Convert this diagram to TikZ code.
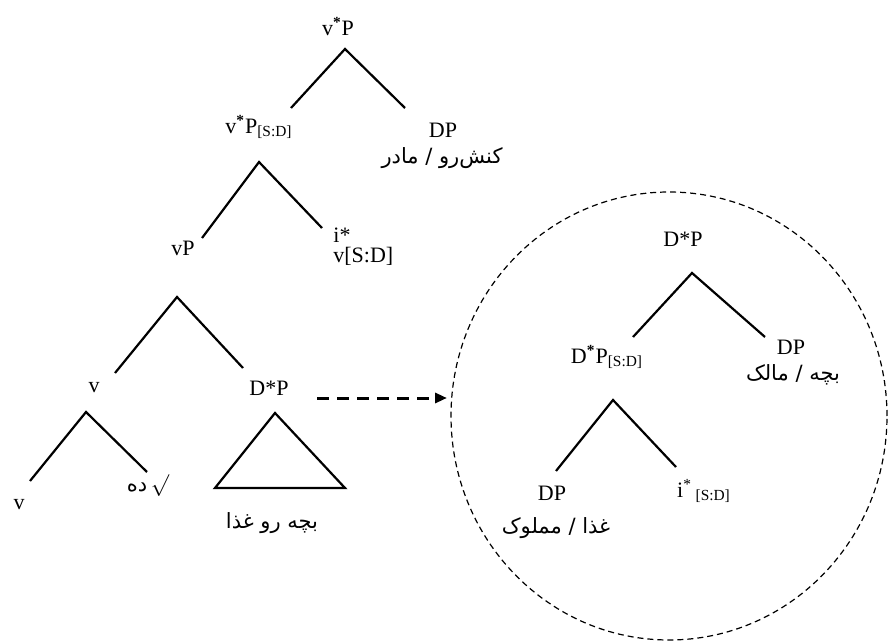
\documentclass[tikz,border=0pt]{standalone}
\usepackage{fontspec}
\setmainfont{Liberation Serif}
\newfontfamily\fa[Script=Arabic]{DejaVu Sans}
\TeXXeTstate=1
\usetikzlibrary{arrows.meta,shapes.geometric}

\begin{document}
\begin{tikzpicture}[
        x=0.5pt, y=-0.5pt,
        every node/.style={font=\fontsize{11}{13}\selectfont, inner sep=1pt},
        fa/.style={font=\fa\fontsize{10.5}{12}\selectfont},
        branch/.style={line width=1.1pt},
        zoomarrow/.style={-{Triangle[length=6pt, width=5pt]}, line width=1.5pt, dash pattern=on 6pt off 4pt},
        bubble/.style={draw, ellipse, line width=0.6pt, dash pattern=on 3pt off 2pt, inner sep=0pt}
    ]
        \useasboundingbox (0,0) rectangle (888,641);

        % Albero principale
        \node (root) at (338,27) {v\textsuperscript{\textbf{*}}P};
        \node (vsd) at (259,127) {v\textsuperscript{\textbf{*}}P\textsubscript{[S:D]}};
        \node (dpa) at (443,130) {DP};
        \node[fa] (dpafa) at (442,158) {\beginR کنش‌رو / مادر\endR};
        \node (vp) at (183,248) {vP};
        \node[align=left, anchor=north west, font=\fontsize{11}{10}\selectfont] (ivsd) at (331,226) {i*\\v[S:D]};
        \node (vlab) at (94,388) {v};
        \node (dsp) at (269,388) {D*P};
        \node (vleaf) at (19,505) {v};
        \node (rootlab) at (148,486) {{\fa\fontsize{10.5}{12}\selectfont\beginR ده\endR}\,$\surd$};
        \node[fa] (dspfa) at (272,523) {\beginR بچه رو غذا\endR};

        % Rami
        \coordinate (b1) at (345,49);  \coordinate (b1l) at (291,108); \coordinate (b1r) at (405,108);
        \coordinate (b2) at (259,162); \coordinate (b2l) at (202,238); \coordinate (b2r) at (322,228);
        \coordinate (b3) at (177,297); \coordinate (b3l) at (115,373); \coordinate (b3r) at (243,368);
        \coordinate (b4) at (86,412);  \coordinate (b4l) at (30,481);  \coordinate (b4r) at (147,472);
        \coordinate (b5) at (275,413); \coordinate (b5l) at (215,488); \coordinate (b5r) at (345,488);
        \draw[branch] (b1l) -- (b1) -- (b1r);
        \draw[branch] (b2l) -- (b2) -- (b2r);
        \draw[branch] (b3l) -- (b3) -- (b3r);
        \draw[branch] (b4l) -- (b4) -- (b4r);
        \draw[branch] (b5l) -- (b5) -- (b5r) -- cycle;

        % Ingrandimento di D*P
        \node[bubble, minimum width=218pt, minimum height=224pt] (zoom) at (669,416) {};
        \coordinate (arrS) at (317,398);
        \coordinate (arrE) at (447,398);
        \draw[zoomarrow] (arrS) -- (arrE);

        \node (ztop) at (683,239) {D*P};
        \node (zsd) at (607,357) {D\textsuperscript{\textbf{*}}P\textsubscript{[S:D]}};
        \node (zdp) at (791,347) {DP};
        \node[fa] (zdpfa) at (793,375) {\beginR بچه / مالک\endR};
        \node (zdpl) at (552,493) {DP};
        \node[fa] (zdplfa) at (556,528) {\beginR غذا / مملوک\endR};
        \node (zi) at (704,491) {i\textsuperscript{*}\,\textsubscript{[S:D]}};

        \coordinate (c1) at (692,273); \coordinate (c1l) at (633,337); \coordinate (c1r) at (765,337);
        \coordinate (c2) at (613,400); \coordinate (c2l) at (556,471); \coordinate (c2r) at (676,467);
        \draw[branch] (c1l) -- (c1) -- (c1r);
        \draw[branch] (c2l) -- (c2) -- (c2r);

    \end{tikzpicture}
\end{document}
